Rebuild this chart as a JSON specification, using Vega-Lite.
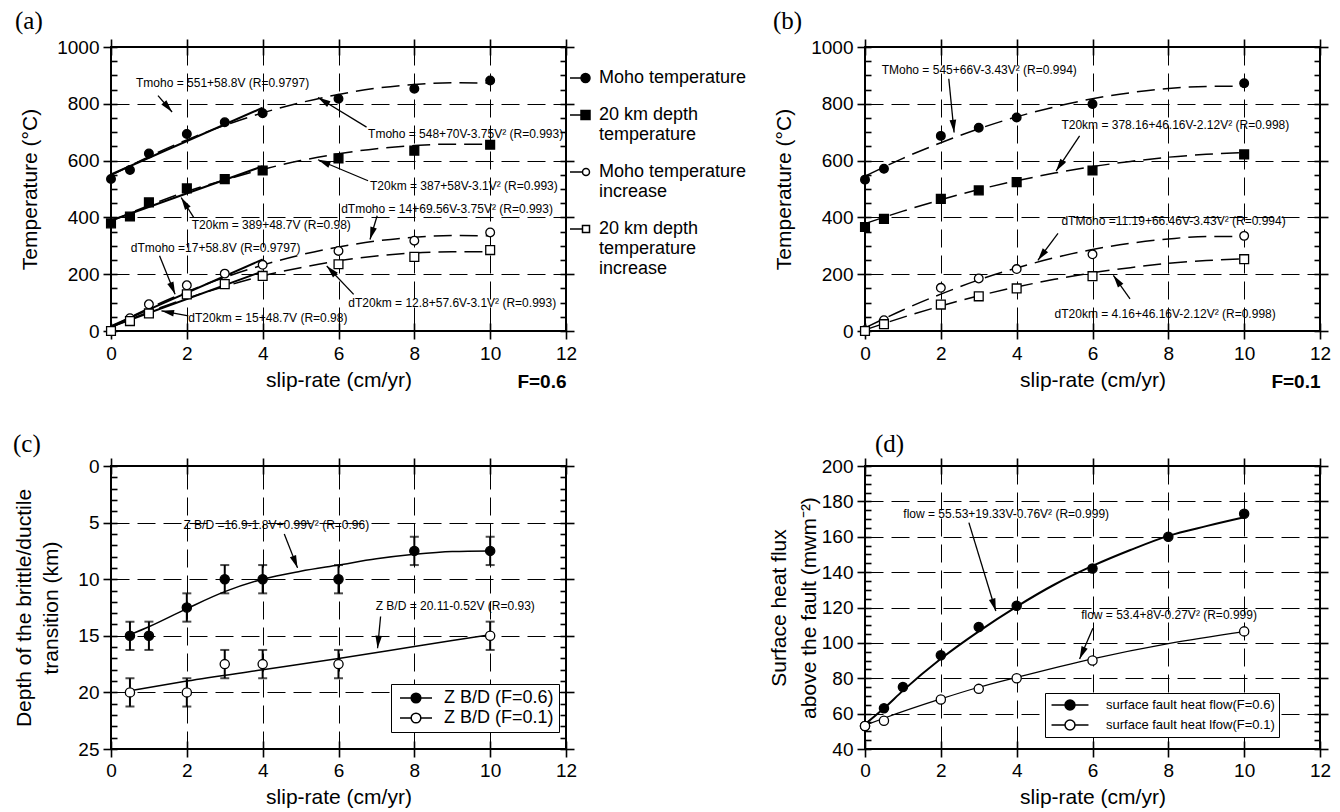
{
"$schema": "https://vega.github.io/schema/vega-lite/v6.json",
"background": "white",
"padding": {"left": 12, "top": 8, "right": 5, "bottom": 2},
"config": {
  "font": "Liberation Sans",
  "view": {"stroke": "black", "strokeWidth": 2},
  "axis": {"domain": false, "grid": false, "labelFont": "Liberation Sans", "labelFontSize": 19, "labelColor": "black", "titleFont": "Liberation Sans", "titleFontSize": 21, "titleFontWeight": "normal", "titleColor": "black", "tickColor": "black", "tickWidth": 1.6, "gridColor": "black", "gridDash": [18, 8], "gridWidth": 1, "gridOpacity": 1, "labelFlush": false, "labelOverlap": false, "format": "d"},
  "legend": {"labelFont": "Liberation Sans", "labelColor": "black", "labelLimit": 0},
  "title": {"font": "Liberation Serif", "fontSize": 25, "fontWeight": "normal", "color": "black", "anchor": "start", "frame": "group"}
},
"datasets": {
  "a_pts": [
    {"s":"Tm","x":0,"y":535},{"s":"Tm","x":0.5,"y":567},{"s":"Tm","x":1,"y":625},{"s":"Tm","x":2,"y":694},{"s":"Tm","x":3,"y":735},{"s":"Tm","x":4,"y":767},{"s":"Tm","x":6,"y":818},{"s":"Tm","x":8,"y":853},{"s":"Tm","x":10,"y":882},
    {"s":"T20","x":0,"y":379},{"s":"T20","x":0.5,"y":403},{"s":"T20","x":1,"y":453},{"s":"T20","x":2,"y":502},{"s":"T20","x":3,"y":535},{"s":"T20","x":4,"y":565},{"s":"T20","x":6,"y":608},{"s":"T20","x":8,"y":635},{"s":"T20","x":10,"y":656},
    {"s":"dTm","x":0,"y":0},{"s":"dTm","x":0.5,"y":45},{"s":"dTm","x":1,"y":94},{"s":"dTm","x":2,"y":161},{"s":"dTm","x":3,"y":202},{"s":"dTm","x":4,"y":233},{"s":"dTm","x":6,"y":282},{"s":"dTm","x":8,"y":318},{"s":"dTm","x":10,"y":347},
    {"s":"dT20","x":0,"y":0},{"s":"dT20","x":0.5,"y":35},{"s":"dT20","x":1,"y":62},{"s":"dT20","x":2,"y":129},{"s":"dT20","x":3,"y":165},{"s":"dT20","x":4,"y":194},{"s":"dT20","x":6,"y":235},{"s":"dT20","x":8,"y":261},{"s":"dT20","x":10,"y":285}
  ],
  "a_fit": [
    {"s":"Tm","k":"lin","x":0,"y":551},{"s":"Tm","k":"lin","x":4,"y":786},
    {"s":"T20","k":"lin","x":0,"y":389},{"s":"T20","k":"lin","x":4,"y":580},
    {"s":"dTm","k":"lin","x":0,"y":17},{"s":"dTm","k":"lin","x":4,"y":252},
    {"s":"dT20","k":"lin","x":0,"y":15},{"s":"dT20","k":"lin","x":4,"y":210},
    {"s":"Tm","k":"quad","x":0,"y":548},{"s":"Tm","k":"quad","x":1,"y":614},{"s":"Tm","k":"quad","x":2,"y":673},{"s":"Tm","k":"quad","x":3,"y":724},{"s":"Tm","k":"quad","x":4,"y":768},{"s":"Tm","k":"quad","x":5,"y":804},{"s":"Tm","k":"quad","x":6,"y":833},{"s":"Tm","k":"quad","x":7,"y":855},{"s":"Tm","k":"quad","x":8,"y":868},{"s":"Tm","k":"quad","x":9,"y":874},{"s":"Tm","k":"quad","x":10,"y":873},
    {"s":"T20","k":"quad","x":0,"y":387},{"s":"T20","k":"quad","x":1,"y":442},{"s":"T20","k":"quad","x":2,"y":491},{"s":"T20","k":"quad","x":3,"y":532},{"s":"T20","k":"quad","x":4,"y":569},{"s":"T20","k":"quad","x":5,"y":600},{"s":"T20","k":"quad","x":6,"y":624},{"s":"T20","k":"quad","x":7,"y":642},{"s":"T20","k":"quad","x":8,"y":653},{"s":"T20","k":"quad","x":9,"y":658},{"s":"T20","k":"quad","x":10,"y":657},
    {"s":"dTm","k":"quad","x":0,"y":14},{"s":"dTm","k":"quad","x":1,"y":80},{"s":"dTm","k":"quad","x":2,"y":138},{"s":"dTm","k":"quad","x":3,"y":189},{"s":"dTm","k":"quad","x":4,"y":232},{"s":"dTm","k":"quad","x":5,"y":268},{"s":"dTm","k":"quad","x":6,"y":296},{"s":"dTm","k":"quad","x":7,"y":317},{"s":"dTm","k":"quad","x":8,"y":330},{"s":"dTm","k":"quad","x":9,"y":336},{"s":"dTm","k":"quad","x":10,"y":335},
    {"s":"dT20","k":"quad","x":0,"y":13},{"s":"dT20","k":"quad","x":1,"y":67},{"s":"dT20","k":"quad","x":2,"y":115},{"s":"dT20","k":"quad","x":3,"y":157},{"s":"dT20","k":"quad","x":4,"y":194},{"s":"dT20","k":"quad","x":5,"y":223},{"s":"dT20","k":"quad","x":6,"y":247},{"s":"dT20","k":"quad","x":7,"y":264},{"s":"dT20","k":"quad","x":8,"y":275},{"s":"dT20","k":"quad","x":9,"y":279},{"s":"dT20","k":"quad","x":10,"y":279}
  ],
  "a_ann": [
    {"x":0.66,"y":872,"t":"Tmoho = 551+58.8V (R=0.9797)"},
    {"x":6.78,"y":693,"t":"Tmoho = 548+70V-3.75V² (R=0.993)"},
    {"x":6.83,"y":509,"t":"T20km = 387+58V-3.1V² (R=0.993)"},
    {"x":6.07,"y":428,"t":"dTmoho = 14+69.56V-3.75V² (R=0.993)"},
    {"x":2.13,"y":372,"t":"T20km = 389+48.7V (R=0.98)"},
    {"x":0.52,"y":292,"t":"dTmoho =17+58.8V (R=0.9797)"},
    {"x":6.26,"y":100,"t":"dT20km = 12.8+57.6V-3.1V² (R=0.993)"},
    {"x":2.04,"y":47,"t":"dT20km = 15+48.7V (R=0.98)"}
  ],
  "a_arr": [
    {"x":1.24,"y":829,"x2":1.61,"y2":771},
    {"x":6.74,"y":718,"x2":5.46,"y2":822},
    {"x":6.78,"y":529,"x2":5.46,"y2":603},
    {"x":7.02,"y":406,"x2":6.83,"y2":322},
    {"x":2.18,"y":400,"x2":1.85,"y2":470},
    {"x":1.28,"y":265,"x2":1.69,"y2":129},
    {"x":6.4,"y":129,"x2":5.69,"y2":229},
    {"x":2.04,"y":53,"x2":1.33,"y2":71}
  ],
  "b_pts": [
    {"s":"Tm","x":0,"y":533},{"s":"Tm","x":0.5,"y":571},{"s":"Tm","x":2,"y":687},{"s":"Tm","x":3,"y":716},{"s":"Tm","x":4,"y":752},{"s":"Tm","x":6,"y":799},{"s":"Tm","x":10,"y":872},
    {"s":"T20","x":0,"y":366},{"s":"T20","x":0.5,"y":395},{"s":"T20","x":2,"y":465},{"s":"T20","x":3,"y":495},{"s":"T20","x":4,"y":524},{"s":"T20","x":6,"y":565},{"s":"T20","x":10,"y":622},
    {"s":"dTm","x":0,"y":3},{"s":"dTm","x":0.5,"y":38},{"s":"dTm","x":2,"y":152},{"s":"dTm","x":3,"y":185},{"s":"dTm","x":4,"y":218},{"s":"dTm","x":6,"y":270},{"s":"dTm","x":10,"y":335},
    {"s":"dT20","x":0,"y":0},{"s":"dT20","x":0.5,"y":24},{"s":"dT20","x":2,"y":93},{"s":"dT20","x":3,"y":122},{"s":"dT20","x":4,"y":150},{"s":"dT20","x":6,"y":193},{"s":"dT20","x":10,"y":253}
  ],
  "b_fit": [
    {"s":"Tm","x":0,"y":545},{"s":"Tm","x":1,"y":608},{"s":"Tm","x":2,"y":663},{"s":"Tm","x":3,"y":712},{"s":"Tm","x":4,"y":754},{"s":"Tm","x":5,"y":789},{"s":"Tm","x":6,"y":818},{"s":"Tm","x":7,"y":839},{"s":"Tm","x":8,"y":854},{"s":"Tm","x":9,"y":861},{"s":"Tm","x":10,"y":862},
    {"s":"T20","x":0,"y":378},{"s":"T20","x":1,"y":422},{"s":"T20","x":2,"y":462},{"s":"T20","x":3,"y":498},{"s":"T20","x":4,"y":529},{"s":"T20","x":5,"y":556},{"s":"T20","x":6,"y":579},{"s":"T20","x":7,"y":597},{"s":"T20","x":8,"y":612},{"s":"T20","x":9,"y":622},{"s":"T20","x":10,"y":628},
    {"s":"dTm","x":0,"y":11},{"s":"dTm","x":1,"y":74},{"s":"dTm","x":2,"y":130},{"s":"dTm","x":3,"y":180},{"s":"dTm","x":4,"y":222},{"s":"dTm","x":5,"y":258},{"s":"dTm","x":6,"y":287},{"s":"dTm","x":7,"y":309},{"s":"dTm","x":8,"y":324},{"s":"dTm","x":9,"y":333},{"s":"dTm","x":10,"y":333},
    {"s":"dT20","x":0,"y":4},{"s":"dT20","x":1,"y":48},{"s":"dT20","x":2,"y":88},{"s":"dT20","x":3,"y":124},{"s":"dT20","x":4,"y":155},{"s":"dT20","x":5,"y":182},{"s":"dT20","x":6,"y":205},{"s":"dT20","x":7,"y":223},{"s":"dT20","x":8,"y":238},{"s":"dT20","x":9,"y":248},{"s":"dT20","x":10,"y":254}
  ],
  "b_ann": [
    {"x":0.44,"y":920,"t":"TMoho = 545+66V-3.43V² (R=0.994)"},
    {"x":5.18,"y":726,"t":"T20km = 378.16+46.16V-2.12V² (R=0.998)"},
    {"x":5.18,"y":388,"t":"dTMoho =11.19+66.46V-3.43V² (R=0.994)"},
    {"x":5.0,"y":60,"t":"dT20km = 4.16+46.16V-2.12V² (R=0.998)"}
  ],
  "b_arr": [
    {"x":2.21,"y":888,"x2":2.35,"y2":699},
    {"x":5.66,"y":687,"x2":5.04,"y2":563},
    {"x":5.09,"y":344,"x2":4.56,"y2":249},
    {"x":6.99,"y":113,"x2":6.55,"y2":196}
  ],
  "c_pts": [
    {"s":"F06","x":0.5,"y":15,"lo":13.75,"hi":16.25},{"s":"F06","x":1,"y":15,"lo":13.75,"hi":16.25},{"s":"F06","x":2,"y":12.5,"lo":11.25,"hi":13.75},{"s":"F06","x":3,"y":10,"lo":8.75,"hi":11.25},{"s":"F06","x":4,"y":10,"lo":8.75,"hi":11.25},{"s":"F06","x":6,"y":10,"lo":8.75,"hi":11.25},{"s":"F06","x":8,"y":7.5,"lo":6.25,"hi":8.75},{"s":"F06","x":10,"y":7.5,"lo":6.25,"hi":8.75},
    {"s":"F01","x":0.5,"y":20,"lo":18.75,"hi":21.25},{"s":"F01","x":2,"y":20,"lo":18.75,"hi":21.25},{"s":"F01","x":3,"y":17.5,"lo":16.25,"hi":18.75},{"s":"F01","x":4,"y":17.5,"lo":16.25,"hi":18.75},{"s":"F01","x":6,"y":17.5,"lo":16.25,"hi":18.75},{"s":"F01","x":10,"y":15,"lo":13.75,"hi":16.25}
  ],
  "c_fit": [
    {"s":"F06","x":0.5,"y":14.9},{"s":"F06","x":1,"y":14.2},{"s":"F06","x":2,"y":12.6},{"s":"F06","x":3,"y":11.1},{"s":"F06","x":4,"y":10.0},{"s":"F06","x":5,"y":9.3},{"s":"F06","x":6,"y":8.75},{"s":"F06","x":7,"y":8.2},{"s":"F06","x":8,"y":7.8},{"s":"F06","x":9,"y":7.55},{"s":"F06","x":10,"y":7.5},
    {"s":"F01","x":0.5,"y":19.85},{"s":"F01","x":2,"y":19.0},{"s":"F01","x":4,"y":18.0},{"s":"F01","x":6,"y":17.0},{"s":"F01","x":8,"y":15.95},{"s":"F01","x":10,"y":14.9}
  ],
  "c_ann": [
    {"x":1.91,"y":5.22,"t":"Z B/D =16.9-1.8V+0.99V² (R=0.96)"},
    {"x":6.98,"y":12.35,"t":"Z B/D = 20.11-0.52V (R=0.93)"}
  ],
  "c_arr": [
    {"x":4.57,"y":6.0,"x2":4.92,"y2":9.0},
    {"x":7.11,"y":13.3,"x2":7.03,"y2":16.1}
  ],
  "d_pts": [
    {"s":"F06","x":0,"y":53},{"s":"F06","x":0.5,"y":63},{"s":"F06","x":1,"y":75},{"s":"F06","x":2,"y":93},{"s":"F06","x":3,"y":109},{"s":"F06","x":4,"y":121},{"s":"F06","x":6,"y":142},{"s":"F06","x":8,"y":160},{"s":"F06","x":10,"y":173},
    {"s":"F01","x":0,"y":53},{"s":"F01","x":0.5,"y":56},{"s":"F01","x":2,"y":68},{"s":"F01","x":3,"y":74},{"s":"F01","x":4,"y":80},{"s":"F01","x":6,"y":90},{"s":"F01","x":10,"y":106.5}
  ],
  "d_fit": [
    {"s":"F06","x":0,"y":54},{"s":"F06","x":0.5,"y":63},{"s":"F06","x":1,"y":73},{"s":"F06","x":2,"y":91},{"s":"F06","x":3,"y":106.5},{"s":"F06","x":4,"y":120.5},{"s":"F06","x":5,"y":133},{"s":"F06","x":6,"y":143.5},{"s":"F06","x":7,"y":152.5},{"s":"F06","x":8,"y":160.5},{"s":"F06","x":9,"y":166},{"s":"F06","x":10,"y":171},
    {"s":"F01","x":0,"y":53.4},{"s":"F01","x":0.5,"y":57.4},{"s":"F01","x":2,"y":68.3},{"s":"F01","x":3,"y":74.9},{"s":"F01","x":4,"y":80.5},{"s":"F01","x":6,"y":91},{"s":"F01","x":8,"y":99.6},{"s":"F01","x":10,"y":106.4}
  ],
  "d_ann": [
    {"x":1.01,"y":172.9,"t":"flow = 55.53+19.33V-0.76V² (R=0.999)"},
    {"x":5.70,"y":115.8,"t":"flow = 53.4+8V-0.27V² (R=0.999)"}
  ],
  "d_arr": [
    {"x":2.74,"y":168,"x2":3.45,"y2":118},
    {"x":6.01,"y":108.3,"x2":5.66,"y2":90.9}
  ]
},
"columns": 2,
"bounds": "flush",
"spacing": {"row": 135, "column": 299},
"resolve": {"scale": {"x": "independent", "y": "independent", "shape": "independent", "fill": "independent"}, "axis": {"x": "independent", "y": "independent"}, "legend": {"shape": "independent", "fill": "independent"}},
"concat": [
{
  "width": 455, "height": 284,
  "title": {"text": "(a)", "dx": -96, "offset": 4},
  "encoding": {
    "x": {"field": "x", "type": "quantitative", "scale": {"domain": [0, 12], "nice": false, "zero": false}, "axis": null},
    "y": {"field": "y", "type": "quantitative", "scale": {"domain": [0, 1000], "nice": false}, "axis": null}
  },
  "layer": [
    {"data": {"name": "a_pts"}, "mark": {"type": "point", "opacity": 0},
     "encoding": {
       "x": {"field": "x", "type": "quantitative", "scale": {"domain": [0, 12], "nice": false, "zero": false}, "axis": {"orient": "bottom", "values": [0,2,4,6,8,10,12], "title": "slip-rate (cm/yr)", "tickSize": 8, "labelPadding": 5, "titlePadding": 6, "grid": true}},
       "y": {"field": "y", "type": "quantitative", "scale": {"domain": [0, 1000], "nice": false}, "axis": {"orient": "left", "values": [0,200,400,600,800,1000], "title": "Temperature (°C)", "tickSize": 8, "labelPadding": 4, "titlePadding": 16, "grid": true}}
     }},
    {"data": {"name": "a_pts"}, "mark": {"type": "point", "opacity": 0},
     "encoding": {
       "x": {"field": "x", "type": "quantitative", "scale": {"domain": [0, 12], "nice": false, "zero": false}, "axis": {"orient": "top", "values": [0,2,4,6,8,10,12], "title": null, "labels": false, "tickSize": 8}},
       "y": {"field": "y", "type": "quantitative", "scale": {"domain": [0, 1000], "nice": false}, "axis": {"orient": "right", "values": [0,200,400,600,800,1000], "title": null, "labels": false, "tickSize": 8}}
     }},
    {"data": {"name": "a_pts"}, "mark": {"type": "point", "opacity": 0},
     "encoding": {
       "x": {"field": "x", "type": "quantitative", "scale": {"domain": [0, 12], "nice": false, "zero": false}, "axis": {"orient": "bottom", "values": [0,2,4,6,8,10,12], "labels": false, "tickSize": -8, "title": "F=0.6", "titleAnchor": "end", "titleFontWeight": "bold", "titleFontSize": 19, "titlePadding": 41}},
       "y": {"field": "y", "type": "quantitative", "scale": {"domain": [0, 1000], "nice": false}, "axis": {"orient": "left", "values": [0,50,100,150,200,250,300,350,400,450,500,550,600,650,700,750,800,850,900,950,1000], "title": null, "labels": false, "tickSize": -6}}
     }},
    {"data": {"name": "a_pts"}, "mark": {"type": "point", "opacity": 0},
     "encoding": {
       "x": {"field": "x", "type": "quantitative", "scale": {"domain": [0, 12], "nice": false, "zero": false}, "axis": {"orient": "top", "values": [0,2,4,6,8,10,12], "title": null, "labels": false, "tickSize": -8}},
       "y": {"field": "y", "type": "quantitative", "scale": {"domain": [0, 1000], "nice": false}, "axis": {"orient": "right", "values": [0,50,100,150,200,250,300,350,400,450,500,550,600,650,700,750,800,850,900,950,1000], "title": null, "labels": false, "tickSize": -6}}
     }},
    {"data": {"name": "a_fit"}, "transform": [{"filter": "datum.k == 'lin'"}], "mark": {"type": "line", "color": "black", "strokeWidth": 2}, "encoding": {"detail": {"field": "s", "type": "nominal"}}},
    {"data": {"name": "a_fit"}, "transform": [{"filter": "datum.k == 'quad'"}], "mark": {"type": "line", "color": "black", "strokeWidth": 1.5, "strokeDash": [18, 8], "interpolate": "monotone"}, "encoding": {"detail": {"field": "s", "type": "nominal"}}},
    {"data": {"name": "a_arr"}, "mark": {"type": "rule", "color": "black", "strokeWidth": 1.3}, "encoding": {"x2": {"field": "x2"}, "y2": {"field": "y2"}}},
    {"data": {"name": "a_arr"}, "transform": [{"calculate": "atan2((datum.x2-datum.x)*37.92, (datum.y2-datum.y)*0.284)*180/PI", "as": "ang"}],
     "mark": {"type": "point", "shape": "M0,0L0.45,1.7L-0.45,1.7Z", "filled": true, "color": "black", "size": 220, "opacity": 1, "strokeWidth": 0},
     "encoding": {
       "x": {"field": "x2", "type": "quantitative", "scale": {"domain": [0, 12], "nice": false, "zero": false}, "axis": null},
       "y": {"field": "y2", "type": "quantitative", "scale": {"domain": [0, 1000], "nice": false}, "axis": null},
       "angle": {"field": "ang", "type": "quantitative", "scale": null}
     }},
    {"data": {"name": "a_ann"}, "mark": {"type": "text", "align": "left", "baseline": "middle", "fontSize": 12, "color": "black"}, "encoding": {"text": {"field": "t", "type": "nominal"}}},
    {"data": {"name": "a_pts"}, "transform": [{"filter": "datum.s == 'Tm' || datum.s == 'dTm'"}], "mark": {"type": "point", "shape": "circle", "filled": true, "size": 75, "stroke": "black", "strokeWidth": 1.3, "opacity": 1},
     "encoding": {"fill": {"condition": {"test": "datum.s == 'Tm'", "value": "black"}, "value": "white"}}},
    {"data": {"name": "a_pts"}, "transform": [{"filter": "datum.s == 'T20' || datum.s == 'dT20'"}], "mark": {"type": "point", "shape": "square", "filled": true, "size": 78, "stroke": "black", "strokeWidth": 1.3, "opacity": 1},
     "encoding": {"fill": {"condition": {"test": "datum.s == 'T20'", "value": "black"}, "value": "white"}}},
    {"data": {"name": "a_pts"}, "transform": [{"filter": "datum.x > 100"}], "mark": {"type": "point", "filled": true, "size": 400, "stroke": "black", "strokeWidth": 1.5, "opacity": 1},
     "encoding": {
       "shape": {"field": "s", "type": "nominal", "scale": {"domain": ["Tm","T20","dTm","dT20"], "range": ["M-1,0H0.1M1,0A0.45,0.45,0,1,1,0.1,0A0.45,0.45,0,1,1,1,0Z", "M-1,0H0.1M0.1,-0.45H1V0.45H0.1Z", "M-1,0H0.25M0.95,0A0.35,0.35,0,1,1,0.25,0A0.35,0.35,0,1,1,0.95,0Z", "M-1,0H0.25M0.25,-0.35H0.95V0.35H0.25Z"]},
         "legend": {"title": null, "orient": "none", "legendX": 458, "legendY": 20, "padding": 0, "labelFontSize": 18, "labelOffset": 8, "rowPadding": 17, "symbolSize": 400, "labelExpr": "datum.label == 'Tm' ? 'Moho temperature' : datum.label == 'T20' ? ['20 km depth', 'temperature'] : datum.label == 'dTm' ? ['Moho temperature', 'increase'] : ['20 km depth', 'temperature', 'increase']", "encode": {"symbols": {"update": {"stroke": {"value": "black"}, "strokeWidth": {"value": 1.5}}}}}},
       "fill": {"field": "s", "type": "nominal", "scale": {"domain": ["Tm","T20","dTm","dT20"], "range": ["black","black","white","white"]},
         "legend": {"title": null, "orient": "none", "legendX": 458, "legendY": 20, "padding": 0, "labelFontSize": 18, "labelOffset": 8, "rowPadding": 17, "symbolSize": 400, "labelExpr": "datum.label == 'Tm' ? 'Moho temperature' : datum.label == 'T20' ? ['20 km depth', 'temperature'] : datum.label == 'dTm' ? ['Moho temperature', 'increase'] : ['20 km depth', 'temperature', 'increase']", "encode": {"symbols": {"update": {"stroke": {"value": "black"}, "strokeWidth": {"value": 1.5}}}}}}
     }}
  ],
  "resolve": {"axis": {"x": "independent", "y": "independent"}}
},
{
  "width": 455, "height": 284,
  "title": {"text": "(b)", "dx": -92, "offset": 4},
  "encoding": {
    "x": {"field": "x", "type": "quantitative", "scale": {"domain": [0, 12], "nice": false, "zero": false}, "axis": null},
    "y": {"field": "y", "type": "quantitative", "scale": {"domain": [0, 1000], "nice": false}, "axis": null}
  },
  "layer": [
    {"data": {"name": "b_pts"}, "mark": {"type": "point", "opacity": 0},
     "encoding": {
       "x": {"field": "x", "type": "quantitative", "scale": {"domain": [0, 12], "nice": false, "zero": false}, "axis": {"orient": "bottom", "values": [0,2,4,6,8,10,12], "title": "slip-rate (cm/yr)", "tickSize": 8, "labelPadding": 5, "titlePadding": 6, "grid": true}},
       "y": {"field": "y", "type": "quantitative", "scale": {"domain": [0, 1000], "nice": false}, "axis": {"orient": "left", "values": [0,200,400,600,800,1000], "title": "Temperature (°C)", "tickSize": 8, "labelPadding": 4, "titlePadding": 16, "grid": true}}
     }},
    {"data": {"name": "b_pts"}, "mark": {"type": "point", "opacity": 0},
     "encoding": {
       "x": {"field": "x", "type": "quantitative", "scale": {"domain": [0, 12], "nice": false, "zero": false}, "axis": {"orient": "top", "values": [0,2,4,6,8,10,12], "title": null, "labels": false, "tickSize": 8}},
       "y": {"field": "y", "type": "quantitative", "scale": {"domain": [0, 1000], "nice": false}, "axis": {"orient": "right", "values": [0,200,400,600,800,1000], "title": null, "labels": false, "tickSize": 8}}
     }},
    {"data": {"name": "b_pts"}, "mark": {"type": "point", "opacity": 0},
     "encoding": {
       "x": {"field": "x", "type": "quantitative", "scale": {"domain": [0, 12], "nice": false, "zero": false}, "axis": {"orient": "bottom", "values": [0,2,4,6,8,10,12], "labels": false, "tickSize": -8, "title": "F=0.1", "titleAnchor": "end", "titleFontWeight": "bold", "titleFontSize": 19, "titlePadding": 41}},
       "y": {"field": "y", "type": "quantitative", "scale": {"domain": [0, 1000], "nice": false}, "axis": {"orient": "left", "values": [0,50,100,150,200,250,300,350,400,450,500,550,600,650,700,750,800,850,900,950,1000], "title": null, "labels": false, "tickSize": -6}}
     }},
    {"data": {"name": "b_pts"}, "mark": {"type": "point", "opacity": 0},
     "encoding": {
       "x": {"field": "x", "type": "quantitative", "scale": {"domain": [0, 12], "nice": false, "zero": false}, "axis": {"orient": "top", "values": [0,2,4,6,8,10,12], "title": null, "labels": false, "tickSize": -8}},
       "y": {"field": "y", "type": "quantitative", "scale": {"domain": [0, 1000], "nice": false}, "axis": {"orient": "right", "values": [0,50,100,150,200,250,300,350,400,450,500,550,600,650,700,750,800,850,900,950,1000], "title": null, "labels": false, "tickSize": -6}}
     }},
    {"data": {"name": "b_fit"}, "mark": {"type": "line", "color": "black", "strokeWidth": 1.5, "strokeDash": [18, 8], "interpolate": "monotone"}, "encoding": {"detail": {"field": "s", "type": "nominal"}}},
    {"data": {"name": "b_arr"}, "mark": {"type": "rule", "color": "black", "strokeWidth": 1.3}, "encoding": {"x2": {"field": "x2"}, "y2": {"field": "y2"}}},
    {"data": {"name": "b_arr"}, "transform": [{"calculate": "atan2((datum.x2-datum.x)*37.92, (datum.y2-datum.y)*0.284)*180/PI", "as": "ang"}],
     "mark": {"type": "point", "shape": "M0,0L0.45,1.7L-0.45,1.7Z", "filled": true, "color": "black", "size": 220, "opacity": 1, "strokeWidth": 0},
     "encoding": {
       "x": {"field": "x2", "type": "quantitative", "scale": {"domain": [0, 12], "nice": false, "zero": false}, "axis": null},
       "y": {"field": "y2", "type": "quantitative", "scale": {"domain": [0, 1000], "nice": false}, "axis": null},
       "angle": {"field": "ang", "type": "quantitative", "scale": null}
     }},
    {"data": {"name": "b_ann"}, "mark": {"type": "text", "align": "left", "baseline": "middle", "fontSize": 12, "color": "black"}, "encoding": {"text": {"field": "t", "type": "nominal"}}},
    {"data": {"name": "b_pts"}, "transform": [{"filter": "datum.s == 'Tm' || datum.s == 'dTm'"}], "mark": {"type": "point", "shape": "circle", "filled": true, "size": 75, "stroke": "black", "strokeWidth": 1.3, "opacity": 1},
     "encoding": {"fill": {"condition": {"test": "datum.s == 'Tm'", "value": "black"}, "value": "white"}}},
    {"data": {"name": "b_pts"}, "transform": [{"filter": "datum.s == 'T20' || datum.s == 'dT20'"}], "mark": {"type": "point", "shape": "square", "filled": true, "size": 78, "stroke": "black", "strokeWidth": 1.3, "opacity": 1},
     "encoding": {"fill": {"condition": {"test": "datum.s == 'T20'", "value": "black"}, "value": "white"}}}
  ],
  "resolve": {"axis": {"x": "independent", "y": "independent"}}
},
{
  "width": 455, "height": 283,
  "title": {"text": "(c)", "dx": -98, "offset": 0},
  "encoding": {
    "x": {"field": "x", "type": "quantitative", "scale": {"domain": [0, 12], "nice": false, "zero": false}, "axis": null},
    "y": {"field": "y", "type": "quantitative", "scale": {"domain": [0, 25], "nice": false, "reverse": true}, "axis": null}
  },
  "layer": [
    {"data": {"name": "c_pts"}, "mark": {"type": "point", "opacity": 0},
     "encoding": {
       "x": {"field": "x", "type": "quantitative", "scale": {"domain": [0, 12], "nice": false, "zero": false}, "axis": {"orient": "bottom", "values": [0,2,4,6,8,10,12], "title": "slip-rate (cm/yr)", "tickSize": 8, "labelPadding": 4, "titlePadding": 6, "grid": true}},
       "y": {"field": "y", "type": "quantitative", "scale": {"domain": [0, 25], "nice": false, "reverse": true}, "axis": {"orient": "left", "values": [0,5,10,15,20,25], "title": ["Depth of the brittle/ductile", "transition (km)"], "titleLineHeight": 27, "tickSize": 8, "labelPadding": 4, "titlePadding": 16, "grid": true}}
     }},
    {"data": {"name": "c_pts"}, "mark": {"type": "point", "opacity": 0},
     "encoding": {
       "x": {"field": "x", "type": "quantitative", "scale": {"domain": [0, 12], "nice": false, "zero": false}, "axis": {"orient": "top", "values": [0,2,4,6,8,10,12], "title": null, "labels": false, "tickSize": 8}},
       "y": {"field": "y", "type": "quantitative", "scale": {"domain": [0, 25], "nice": false, "reverse": true}, "axis": {"orient": "right", "values": [0,5,10,15,20,25], "title": null, "labels": false, "tickSize": 8}}
     }},
    {"data": {"name": "c_pts"}, "mark": {"type": "point", "opacity": 0},
     "encoding": {
       "x": {"field": "x", "type": "quantitative", "scale": {"domain": [0, 12], "nice": false, "zero": false}, "axis": {"orient": "bottom", "values": [0,2,4,6,8,10,12], "title": null, "labels": false, "tickSize": -8}},
       "y": {"field": "y", "type": "quantitative", "scale": {"domain": [0, 25], "nice": false, "reverse": true}, "axis": {"orient": "left", "values": [0,1,2,3,4,5,6,7,8,9,10,11,12,13,14,15,16,17,18,19,20,21,22,23,24,25], "title": null, "labels": false, "tickSize": -6}}
     }},
    {"data": {"name": "c_pts"}, "mark": {"type": "point", "opacity": 0},
     "encoding": {
       "x": {"field": "x", "type": "quantitative", "scale": {"domain": [0, 12], "nice": false, "zero": false}, "axis": {"orient": "top", "values": [0,2,4,6,8,10,12], "title": null, "labels": false, "tickSize": -8}},
       "y": {"field": "y", "type": "quantitative", "scale": {"domain": [0, 25], "nice": false, "reverse": true}, "axis": {"orient": "right", "values": [0,1,2,3,4,5,6,7,8,9,10,11,12,13,14,15,16,17,18,19,20,21,22,23,24,25], "title": null, "labels": false, "tickSize": -6}}
     }},
    {"data": {"name": "c_fit"}, "mark": {"type": "line", "color": "black", "strokeWidth": 1.5, "interpolate": "monotone"}, "encoding": {"detail": {"field": "s", "type": "nominal"}}},
    {"data": {"name": "c_pts"}, "mark": {"type": "errorbar", "ticks": {"size": 9, "thickness": 2}, "thickness": 2, "color": "black"},
     "encoding": {
       "y": {"field": "lo", "type": "quantitative", "scale": {"domain": [0, 25], "nice": false, "reverse": true}, "axis": null},
       "y2": {"field": "hi"}
     }},
    {"data": {"name": "c_arr"}, "mark": {"type": "rule", "color": "black", "strokeWidth": 1.3}, "encoding": {"x2": {"field": "x2"}, "y2": {"field": "y2"}}},
    {"data": {"name": "c_arr"}, "transform": [{"calculate": "atan2((datum.x2-datum.x)*37.92, -(datum.y2-datum.y)*11.32)*180/PI", "as": "ang"}],
     "mark": {"type": "point", "shape": "M0,0L0.45,1.7L-0.45,1.7Z", "filled": true, "color": "black", "size": 220, "opacity": 1, "strokeWidth": 0},
     "encoding": {
       "x": {"field": "x2", "type": "quantitative", "scale": {"domain": [0, 12], "nice": false, "zero": false}, "axis": null},
       "y": {"field": "y2", "type": "quantitative", "scale": {"domain": [0, 25], "nice": false, "reverse": true}, "axis": null},
       "angle": {"field": "ang", "type": "quantitative", "scale": null}
     }},
    {"data": {"name": "c_ann"}, "mark": {"type": "text", "align": "left", "baseline": "middle", "fontSize": 12, "color": "black"}, "encoding": {"text": {"field": "t", "type": "nominal"}}},
    {"data": {"name": "c_pts"}, "mark": {"type": "point", "filled": true, "size": 85, "stroke": "black", "strokeWidth": 1.3, "opacity": 1, "shape": "circle"},
     "encoding": {"fill": {"condition": {"test": "datum.s == 'F06'", "value": "black"}, "value": "white"}}},
    {"data": {"name": "c_pts"}, "transform": [{"filter": "datum.x > 100"}], "mark": {"type": "point", "filled": true, "size": 196, "stroke": "black", "strokeWidth": 1.5, "opacity": 1},
     "encoding": {
       "shape": {"field": "s", "type": "nominal", "scale": {"domain": ["F06","F01"], "range": ["M-2.29,0H2.29M0.69,0A0.69,0.69,0,1,1,-0.69,0A0.69,0.69,0,1,1,0.69,0Z", "M-2.29,0H-0.69M0.69,0H2.29M0.69,0A0.69,0.69,0,1,1,-0.69,0A0.69,0.69,0,1,1,0.69,0Z"]},
         "legend": {"title": null, "orient": "none", "legendX": 280, "legendY": 218, "padding": 5, "strokeColor": "black", "fillColor": "white", "labelFontSize": 18, "symbolOffset": 11, "labelOffset": 19, "rowPadding": 2, "symbolSize": 196, "labelExpr": "datum.label == 'F06' ? 'Z B/D (F=0.6)' : 'Z B/D (F=0.1)'", "encode": {"symbols": {"update": {"stroke": {"value": "black"}, "strokeWidth": {"value": 1.5}}}}}},
       "fill": {"field": "s", "type": "nominal", "scale": {"domain": ["F06","F01"], "range": ["black","white"]},
         "legend": {"title": null, "orient": "none", "legendX": 280, "legendY": 218, "padding": 5, "strokeColor": "black", "fillColor": "white", "labelFontSize": 18, "symbolOffset": 11, "labelOffset": 19, "rowPadding": 2, "symbolSize": 196, "labelExpr": "datum.label == 'F06' ? 'Z B/D (F=0.6)' : 'Z B/D (F=0.1)'", "encode": {"symbols": {"update": {"stroke": {"value": "black"}, "strokeWidth": {"value": 1.5}}}}}}
     }}
  ],
  "resolve": {"axis": {"x": "independent", "y": "independent"}}
},
{
  "width": 455, "height": 283,
  "title": {"text": "(d)", "dx": 10, "offset": 0},
  "encoding": {
    "x": {"field": "x", "type": "quantitative", "scale": {"domain": [0, 12], "nice": false, "zero": false}, "axis": null},
    "y": {"field": "y", "type": "quantitative", "scale": {"domain": [40, 200], "nice": false, "zero": false}, "axis": null}
  },
  "layer": [
    {"data": {"name": "d_pts"}, "mark": {"type": "point", "opacity": 0},
     "encoding": {
       "x": {"field": "x", "type": "quantitative", "scale": {"domain": [0, 12], "nice": false, "zero": false}, "axis": {"orient": "bottom", "values": [0,2,4,6,8,10,12], "title": "slip-rate (cm/yr)", "tickSize": 8, "labelPadding": 4, "titlePadding": 6, "grid": true}},
       "y": {"field": "y", "type": "quantitative", "scale": {"domain": [40, 200], "nice": false, "zero": false}, "axis": {"orient": "left", "values": [40,60,80,100,120,140,160,180,200], "title": ["Surface heat flux", "above the fault (mwm⁻²)"], "titleLineHeight": 30, "tickSize": 8, "labelPadding": 4, "titlePadding": 2, "grid": true}}
     }},
    {"data": {"name": "d_pts"}, "mark": {"type": "point", "opacity": 0},
     "encoding": {
       "x": {"field": "x", "type": "quantitative", "scale": {"domain": [0, 12], "nice": false, "zero": false}, "axis": {"orient": "top", "values": [0,2,4,6,8,10,12], "title": null, "labels": false, "tickSize": 8}},
       "y": {"field": "y", "type": "quantitative", "scale": {"domain": [40, 200], "nice": false, "zero": false}, "axis": {"orient": "right", "values": [40,60,80,100,120,140,160,180,200], "title": null, "labels": false, "tickSize": 8}}
     }},
    {"data": {"name": "d_pts"}, "mark": {"type": "point", "opacity": 0},
     "encoding": {
       "x": {"field": "x", "type": "quantitative", "scale": {"domain": [0, 12], "nice": false, "zero": false}, "axis": {"orient": "bottom", "values": [0,2,4,6,8,10,12], "title": null, "labels": false, "tickSize": -8}},
       "y": {"field": "y", "type": "quantitative", "scale": {"domain": [40, 200], "nice": false, "zero": false}, "axis": {"orient": "left", "values": [40,45,50,55,60,65,70,75,80,85,90,95,100,105,110,115,120,125,130,135,140,145,150,155,160,165,170,175,180,185,190,195,200], "title": null, "labels": false, "tickSize": -6}}
     }},
    {"data": {"name": "d_pts"}, "mark": {"type": "point", "opacity": 0},
     "encoding": {
       "x": {"field": "x", "type": "quantitative", "scale": {"domain": [0, 12], "nice": false, "zero": false}, "axis": {"orient": "top", "values": [0,2,4,6,8,10,12], "title": null, "labels": false, "tickSize": -8}},
       "y": {"field": "y", "type": "quantitative", "scale": {"domain": [40, 200], "nice": false, "zero": false}, "axis": {"orient": "right", "values": [40,45,50,55,60,65,70,75,80,85,90,95,100,105,110,115,120,125,130,135,140,145,150,155,160,165,170,175,180,185,190,195,200], "title": null, "labels": false, "tickSize": -6}}
     }},
    {"data": {"name": "d_fit"}, "transform": [{"filter": "datum.s == 'F06'"}], "mark": {"type": "line", "color": "black", "strokeWidth": 2, "interpolate": "monotone"}, "encoding": {}},
    {"data": {"name": "d_fit"}, "transform": [{"filter": "datum.s == 'F01'"}], "mark": {"type": "line", "color": "black", "strokeWidth": 1.2, "interpolate": "monotone"}, "encoding": {}},
    {"data": {"name": "d_arr"}, "mark": {"type": "rule", "color": "black", "strokeWidth": 1.3}, "encoding": {"x2": {"field": "x2"}, "y2": {"field": "y2"}}},
    {"data": {"name": "d_arr"}, "transform": [{"calculate": "atan2((datum.x2-datum.x)*37.92, (datum.y2-datum.y)*1.769)*180/PI", "as": "ang"}],
     "mark": {"type": "point", "shape": "M0,0L0.45,1.7L-0.45,1.7Z", "filled": true, "color": "black", "size": 220, "opacity": 1, "strokeWidth": 0},
     "encoding": {
       "x": {"field": "x2", "type": "quantitative", "scale": {"domain": [0, 12], "nice": false, "zero": false}, "axis": null},
       "y": {"field": "y2", "type": "quantitative", "scale": {"domain": [40, 200], "nice": false, "zero": false}, "axis": null},
       "angle": {"field": "ang", "type": "quantitative", "scale": null}
     }},
    {"data": {"name": "d_ann"}, "mark": {"type": "text", "align": "left", "baseline": "middle", "fontSize": 12, "color": "black"}, "encoding": {"text": {"field": "t", "type": "nominal"}}},
    {"data": {"name": "d_pts"}, "mark": {"type": "point", "filled": true, "size": 85, "stroke": "black", "strokeWidth": 1.3, "opacity": 1, "shape": "circle"},
     "encoding": {"fill": {"condition": {"test": "datum.s == 'F06'", "value": "black"}, "value": "white"}}},
    {"data": {"name": "d_pts"}, "transform": [{"filter": "datum.x > 100"}], "mark": {"type": "point", "filled": true, "size": 196, "stroke": "black", "strokeWidth": 1.3, "opacity": 1},
     "encoding": {
       "shape": {"field": "s", "type": "nominal", "scale": {"domain": ["F06","F01"], "range": ["M-2.64,0H2.64M0.71,0A0.71,0.71,0,1,1,-0.71,0A0.71,0.71,0,1,1,0.71,0Z", "M-2.64,0H-0.71M0.71,0H2.64M0.71,0A0.71,0.71,0,1,1,-0.71,0A0.71,0.71,0,1,1,0.71,0Z"]},
         "legend": {"title": null, "orient": "none", "legendX": 180, "legendY": 227, "padding": 4, "strokeColor": "black", "fillColor": "white", "labelFontSize": 13, "symbolOffset": 13, "labelOffset": 28, "rowPadding": 4, "symbolSize": 196, "labelExpr": "datum.label == 'F06' ? 'surface fault heat flow(F=0.6)' : 'surface fault heat lfow(F=0.1)'", "encode": {"symbols": {"update": {"stroke": {"value": "black"}, "strokeWidth": {"value": 1.3}}}}}},
       "fill": {"field": "s", "type": "nominal", "scale": {"domain": ["F06","F01"], "range": ["black","white"]},
         "legend": {"title": null, "orient": "none", "legendX": 180, "legendY": 227, "padding": 4, "strokeColor": "black", "fillColor": "white", "labelFontSize": 13, "symbolOffset": 13, "labelOffset": 28, "rowPadding": 4, "symbolSize": 196, "labelExpr": "datum.label == 'F06' ? 'surface fault heat flow(F=0.6)' : 'surface fault heat lfow(F=0.1)'", "encode": {"symbols": {"update": {"stroke": {"value": "black"}, "strokeWidth": {"value": 1.3}}}}}}
     }}
  ],
  "resolve": {"axis": {"x": "independent", "y": "independent"}}
}
]
}
